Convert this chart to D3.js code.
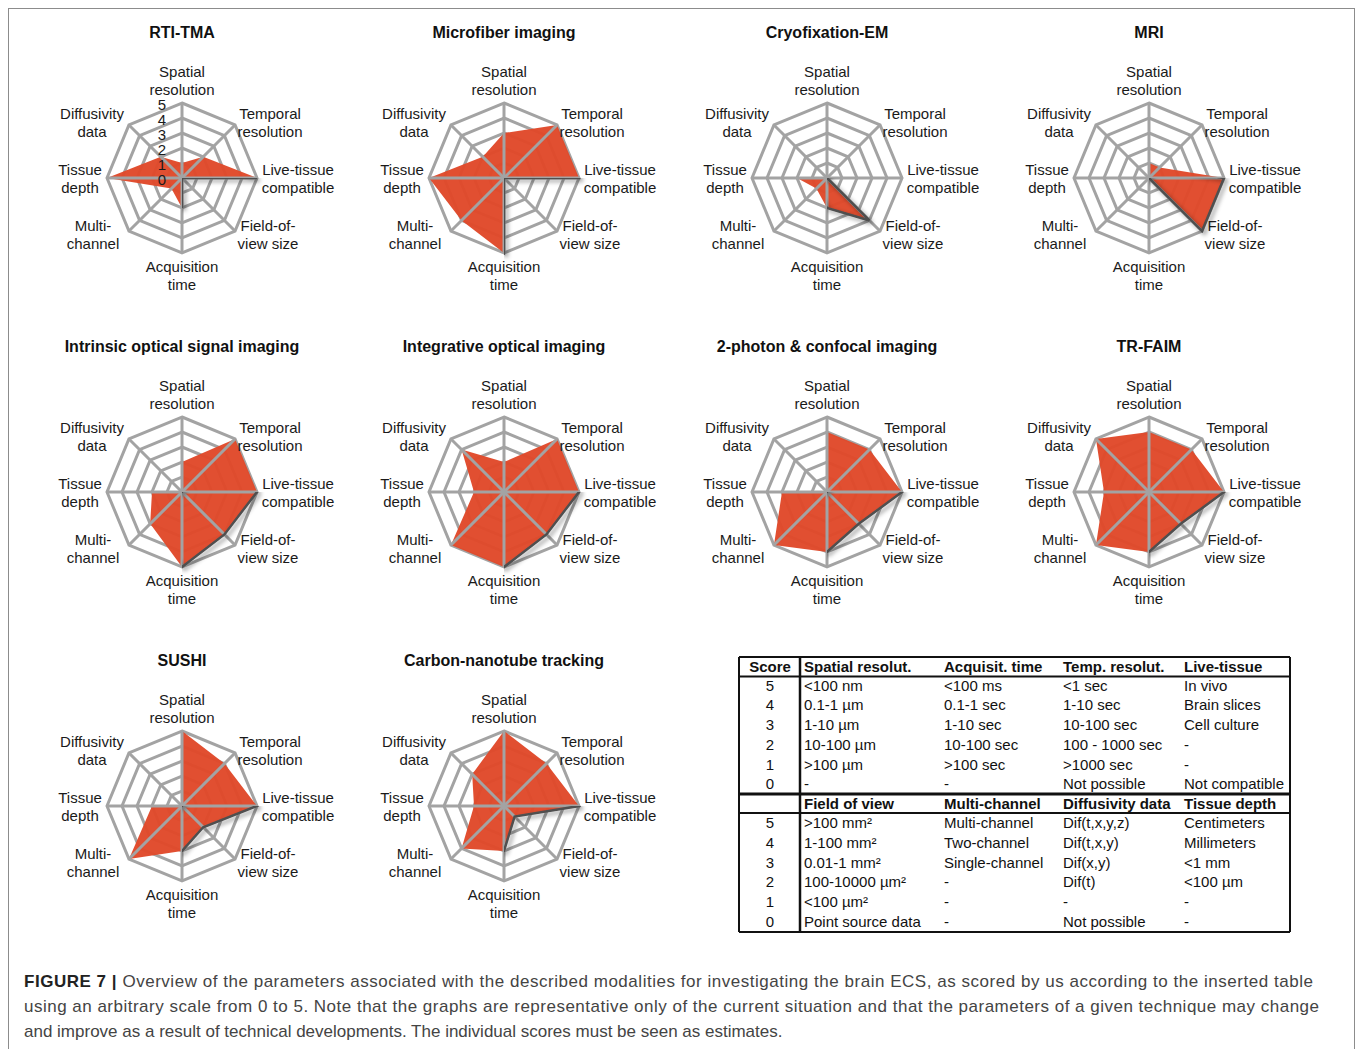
<!DOCTYPE html>
<html>
<head>
<meta charset="utf-8">
<script src="https://cdn.jsdelivr.net/npm/d3@7"></script>
<style>
  html, body { margin: 0; padding: 0; background: #fff; }
  svg { display: block; font-family: "Liberation Sans", Arial, Helvetica, sans-serif; }
</style>
</head>
<body>
<svg id="fig" width="1357" height="1049"></svg>
<script>
// ---- Radar axes (clockwise from the top) ----
const axisLabels = [
  ["Spatial", "resolution"],
  ["Temporal", "resolution"],
  ["Live-tissue", "compatible"],
  ["Field-of-", "view size"],
  ["Acquisition", "time"],
  ["Multi-", "channel"],
  ["Tissue", "depth"],
  ["Diffusivity", "data"]
];
const scoreTicks = [0, 1, 2, 3, 4, 5];

// ---- Techniques and their scores (same axis order as above) ----
const techniques = [
  "RTI-TMA", "Microfiber imaging", "Cryofixation-EM", "MRI",
  "Intrinsic optical signal imaging", "Integrative optical imaging",
  "2-photon & confocal imaging", "TR-FAIM",
  "SUSHI", "Carbon-nanotube tracking"
];
const rtiTma         = [1, 2, 5, 0, 2, 1, 5, 2];
const microfiber     = [3, 5, 5, 0, 5, 4, 5, 2];
const cryoEm         = [5, 0, 0, 4, 2, 1, 2, 0];
const mri            = [1, 1, 5, 5, 0, 0, 5, 0];
const intrinsicOsi   = [2, 5, 5, 4, 5, 3, 2, 0];
const integrativeOi  = [2, 5, 5, 4, 5, 5, 2, 4];
const twoPhoton      = [4, 4, 5, 3, 4, 5, 3, 0];
const trFaim         = [4, 4, 5, 3, 4, 5, 3, 5];
const sushi          = [5, 4, 5, 2, 3, 5, 2, 0];
const carbonNanotube = [5, 4, 5, 1, 3, 4, 2, 3];
const techniqueScores = [rtiTma, microfiber, cryoEm, mri, intrinsicOsi,
  integrativeOi, twoPhoton, trFaim, sushi, carbonNanotube];

// ---- Scoring table ----
const tableHeadTop = ["Score", "Spatial resolut.", "Acquisit. time", "Temp. resolut.", "Live-tissue"];
const tableHeadBottom = ["", "Field of view", "Multi-channel", "Diffusivity data", "Tissue depth"];
const scoreLevels = [5, 4, 3, 2, 1, 0];
const spatialRes  = ["<100 nm", "0.1-1 µm", "1-10 µm", "10-100 µm", ">100 µm", "-"];
const acqTime     = ["<100 ms", "0.1-1 sec", "1-10 sec", "10-100 sec", ">100 sec", "-"];
const tempRes     = ["<1 sec", "1-10 sec", "10-100 sec", "100 - 1000 sec", ">1000 sec", "Not possible"];
const liveTissue  = ["In vivo", "Brain slices", "Cell culture", "-", "-", "Not compatible"];
const fieldOfView = [">100 mm²", "1-100 mm²", "0.01-1 mm²", "100-10000 µm²", "<100 µm²", "Point source data"];
const multiChan   = ["Multi-channel", "Two-channel", "Single-channel", "-", "-", "-"];
const diffusivity = ["Dif(t,x,y,z)", "Dif(t,x,y)", "Dif(x,y)", "Dif(t)", "-", "Not possible"];
const tissueDepth = ["Centimeters", "Millimeters", "<1 mm", "<100 µm", "-", "-"];

// ---- Caption ----
const captionLines = [
  { bold: "FIGURE 7 | ", text: "Overview of the parameters associated with the described modalities for investigating the brain ECS, as scored by us according to the inserted table" },
  { bold: "", text: "using an arbitrary scale from 0 to 5. Note that the graphs are representative only of the current situation and that the parameters of a given technique may change" },
  { bold: "", text: "and improve as a result of technical developments. The individual scores must be seen as estimates." }
];

// ================= drawing =================
const svg = d3.select("#fig");

// outer frame of the figure
svg.append("rect").attr("x", 8.5).attr("y", 8.5).attr("width", 1346).attr("height", 1080)
  .attr("fill", "none").attr("stroke", "#8c8c8c").attr("stroke-width", 1);

const defs = svg.append("defs");
const shadow = defs.append("filter").attr("id", "shadow")
  .attr("filterUnits", "userSpaceOnUse").attr("x", 0).attr("y", 0)
  .attr("width", 1357).attr("height", 1049);
shadow.append("feDropShadow").attr("dx", 2.5).attr("dy", 2.5)
  .attr("stdDeviation", 2).attr("flood-color", "#000").attr("flood-opacity", 0.45);

const R = 75;
const rScale = d3.scaleLinear().domain([0, 5]).range([0, R]);
const nAxes = axisLabels.length;
const angle = d3.scaleLinear().domain([0, nAxes]).range([0, 2 * Math.PI]);
const radarLine = d3.lineRadial()
  .angle((d, i) => angle(i))
  .radius(d => rScale(d))
  .curve(d3.curveLinearClosed);

const colX = [182, 504, 827, 1149];
const rowY = [178, 492, 806];
// label block centres relative to the chart centre
const labelOffset = [[0, -97], [88, -55], [116, 1], [86, 57], [0, 98], [-89, 57], [-102, 1], [-90, -55]];

const gridColor = "#a3a3a3";

techniques.forEach((name, k) => {
  const cx = colX[k % 4], cy = rowY[Math.floor(k / 4)];
  const g = svg.append("g").attr("transform", `translate(${cx},${cy})`);
  const values = techniqueScores[k];

  g.append("text").attr("x", 0).attr("y", -146).attr("dy", "0.35em")
    .attr("text-anchor", "middle").attr("font-weight", "bold").attr("font-size", 16)
    .attr("fill", "#111").text(name);

  // concentric rings
  g.selectAll(".ring").data(scoreTicks.filter(t => t > 0)).join("path")
    .attr("d", t => radarLine(d3.range(nAxes).map(() => t)))
    .attr("fill", "none").attr("stroke", gridColor).attr("stroke-width", 3)
    .attr("stroke-linejoin", "miter");

  // filled score area
  g.append("path").attr("d", radarLine(values))
    .attr("fill", "#e0492a").attr("fill-opacity", 0.97).attr("stroke", "none");

  // spokes
  g.selectAll(".spoke").data(d3.range(nAxes)).join("line")
    .attr("x1", 0).attr("y1", 0)
    .attr("x2", i => d3.pointRadial(angle(i), R)[0])
    .attr("y2", i => d3.pointRadial(angle(i), R)[1])
    .attr("stroke", gridColor).attr("stroke-width", 3);

  // outline of score area
  g.append("path").attr("d", radarLine(values))
    .attr("fill", "none").attr("stroke", "#4f4f4f").attr("stroke-width", 2.5)
    .attr("stroke-linejoin", "miter").attr("filter", "url(#shadow)");

  // axis labels
  axisLabels.forEach((lines, i) => {
    const [dx, dy] = labelOffset[i];
    const t = g.append("text").attr("text-anchor", "middle").attr("font-size", 15).attr("fill", "#1a1a1a");
    lines.forEach((ln, j) => {
      t.append("tspan").attr("x", dx).attr("y", dy + (j - 0.5) * 18).attr("dy", "0.35em").text(ln);
    });
  });

  // score scale on the first chart only
  if (k === 0) {
    g.selectAll(".tick").data(scoreTicks).join("text")
      .attr("x", -20).attr("y", t => -rScale(t) + 2).attr("dy", "0.35em")
      .attr("text-anchor", "middle").attr("font-size", 15).attr("fill", "#1a1a1a")
      .text(t => t);
  }
});

// ---- table ----
const tb = svg.append("g");
const tLeft = 739, tRight = 1290, tTop = 657, tBottom = 932, tDiv = 800;
const colText = [804, 944, 1063, 1184];
const rowYTop = d3.scaleLinear().domain([5, 0]).range([685.5, 784]);
const rowYBot = d3.scaleLinear().domain([5, 0]).range([823, 921.5]);

function tableText(x, y, s, bold, anchor) {
  tb.append("text").attr("x", x).attr("y", y).attr("dy", "0.35em")
    .attr("font-size", 15).attr("fill", "#111")
    .attr("font-weight", bold ? "bold" : "normal")
    .attr("text-anchor", anchor || "start").text(s);
}

tableText(770, 666.5, tableHeadTop[0], true, "middle");
tableHeadTop.slice(1).forEach((h, i) => tableText(colText[i], 666.5, h, true));
tableHeadBottom.slice(1).forEach((h, i) => tableText(colText[i], 803.5, h, true));

const topCols = [spatialRes, acqTime, tempRes, liveTissue];
const botCols = [fieldOfView, multiChan, diffusivity, tissueDepth];
scoreLevels.forEach((s, r) => {
  tableText(770, rowYTop(s), s, false, "middle");
  tableText(770, rowYBot(s), s, false, "middle");
  topCols.forEach((col, c) => tableText(colText[c], rowYTop(s), col[r], false));
  botCols.forEach((col, c) => tableText(colText[c], rowYBot(s), col[r], false));
});

const hLines = [[tTop, 2], [676.5, 2], [794, 3], [813, 2], [tBottom, 2]];
hLines.forEach(([y, w]) => tb.append("line").attr("x1", tLeft).attr("x2", tRight)
  .attr("y1", y).attr("y2", y).attr("stroke", "#111").attr("stroke-width", w));
[[tLeft, 2], [tDiv, 2.5], [tRight, 2]].forEach(([x, w]) => tb.append("line")
  .attr("x1", x).attr("x2", x).attr("y1", tTop).attr("y2", tBottom)
  .attr("stroke", "#111").attr("stroke-width", w));

// ---- caption ----
const capWidths = [1289, 1295, null];
captionLines.forEach((ln, i) => {
  const t = svg.append("text").attr("x", 24).attr("y", 987 + i * 25)
    .attr("font-size", 17).attr("fill", "#444");
  if (capWidths[i]) t.attr("textLength", capWidths[i]).attr("lengthAdjust", "spacing");
  if (ln.bold) t.append("tspan").attr("font-weight", "bold").attr("fill", "#222").text(ln.bold);
  t.append("tspan").text(ln.text);
});
</script>
</body>
</html>
